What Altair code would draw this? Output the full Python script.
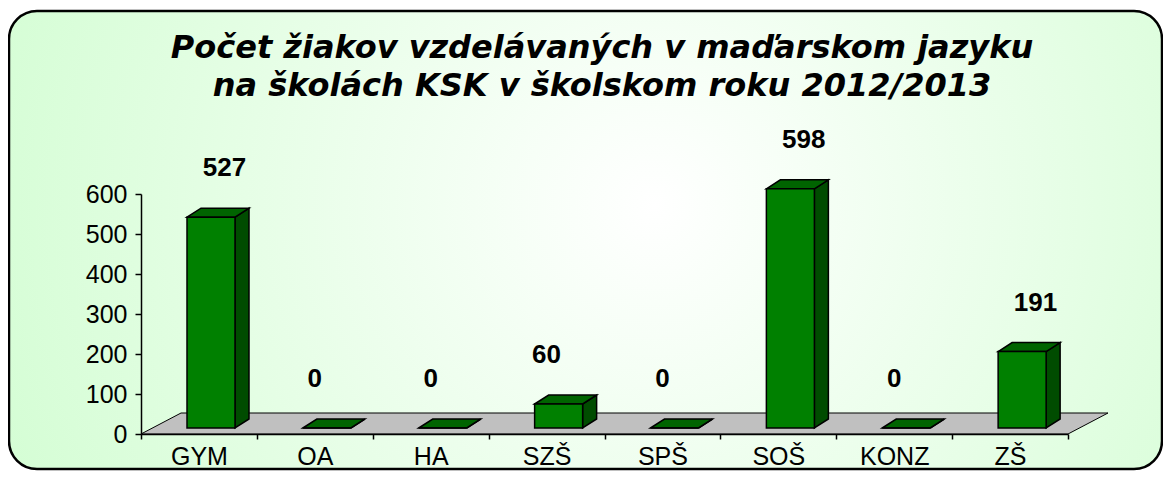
import altair as alt
import pandas as pd

categories = ["GYM", "OA", "HA", "SZŠ", "SPŠ", "SOŠ", "KONZ", "ZŠ"]
values = [527, 0, 0, 60, 0, 598, 0, 191]
y_ticks = [0, 100, 200, 300, 400, 500, 600]
title_lines = ["Počet žiakov vzdelávaných v maďarskom jazyku",
               "na školách KSK v školskom roku 2012/2013"]

# geometry of the pseudo-3D look (in data units)
W, H = 927, 240
PX = 8 / W          # data units per px (x)
PY = 600 / H        # data units per px (y)
BAR_L, BAR_R = 46 * PX, 94 * PX
BASE = 6 * PY
DX, DY = 14 * PX, 9 * PY
FDX, FDY = 40 * PX, 21 * PY

floor = pd.DataFrame({
    "x": [0, FDX, 8, 8 + FDX],
    "y": [0, FDY, FDY, FDY],
    "y2": [0, 0, 0, FDY],
})

front_rows, side_rows, top_rows = [], [], []
for i, (c, v) in enumerate(zip(categories, values)):
    L, R = i + BAR_L, i + BAR_R
    b, t = BASE, BASE + v
    front_rows += [{"id": c, "x": L, "y": t, "y2": b},
                   {"id": c, "x": R, "y": t, "y2": b}]
    side_rows += [{"id": c, "x": R, "y": t, "y2": b},
                  {"id": c, "x": R + DX, "y": t + DY, "y2": b + DY}]
    top_rows += [{"id": c, "x": L, "y": t, "y2": t},
                 {"id": c, "x": L + DX, "y": t + DY, "y2": t},
                 {"id": c, "x": R, "y": t + DY, "y2": t},
                 {"id": c, "x": R + DX, "y": t + DY, "y2": t + DY}]
front = pd.DataFrame(front_rows)
side = pd.DataFrame(side_rows)
top = pd.DataFrame(top_rows)

labels = pd.DataFrame({
    "cat": categories,
    "v": values,
    "lx": [i + 0.5 + (0.22 if v > 100 else 0) for i, v in enumerate(values)],
})

xscale = alt.Scale(domain=[0, 8], nice=False, zero=False)
yscale = alt.Scale(domain=[0, 600], nice=False)

label_expr = "datum.value % 1 == 0 ? '' : " + str(categories) + "[floor(datum.value)]"
x_axis = alt.Axis(
    values=[k * 0.5 for k in range(17)],
    labelExpr=label_expr,
    tickOpacity={"condition": {"test": "datum.value % 1 != 0", "value": 0}, "value": 1},
    title=None, grid=False, tickSize=5, labelPadding=5,
    labelFontSize=25, labelFont="Liberation Sans", labelColor="black",
    domainColor="black", tickColor="black", domainWidth=1.5, tickWidth=1.5,
    labelAngle=0, zindex=1, labelOverlap=False,
)
y_axis = alt.Axis(
    values=y_ticks, title=None, grid=False, tickSize=6, labelPadding=8,
    labelFontSize=25, labelFont="Liberation Sans", labelColor="black",
    domainColor="black", tickColor="black", domainWidth=1.5, tickWidth=1.5,
    zindex=1, labelOverlap=False,
)


def X(field):
    return alt.X(field, scale=xscale, axis=x_axis)


def Y(field):
    return alt.Y(field, scale=yscale, axis=y_axis)


# background frame (pixel offsets relative to plot area)
bg = alt.Chart(pd.DataFrame({"a": [0]})).mark_rect(
    fill={"gradient": "radial", "x1": 0.56, "y1": 0.47, "r1": 0,
          "x2": 0.56, "y2": 0.47, "r2": 0.78,
          "stops": [{"offset": 0, "color": "#ffffff"},
                    {"offset": 1, "color": "#c8fdc8"}]},
    stroke="black", strokeWidth=2.5, cornerRadius=28,
).encode(x=alt.value(-132), x2=alt.value(1021), y=alt.value(-183), y2=alt.value(275))

floor_layer = alt.Chart(floor).mark_area(
    color="#c0c0c0", stroke="black", strokeWidth=1, interpolate="linear"
).encode(x=X("x:Q"), y=Y("y:Q"), y2="y2:Q")


def faces(df, fill):
    return alt.Chart(df).mark_area(
        color=fill, stroke="black", strokeWidth=1.5, interpolate="linear",
        strokeJoin="miter",
    ).encode(x=X("x:Q"), y=Y("y:Q"), y2="y2:Q", detail="id:N")


side_layer = faces(side, "#004c00")
top_layer = faces(top, "#006400")
front_layer = faces(front, "#008000")

text_layer = alt.Chart(labels).mark_text(
    font="Liberation Sans", fontSize=26, fontWeight="bold", color="black",
    baseline="middle", align="center", dy=-55,
).encode(x=X("lx:Q"), y=Y("v:Q"), text="v:Q")

t1 = alt.Chart(pd.DataFrame({"t": [title_lines[0]]})).mark_text(
    font="DejaVu Sans", fontSize=32, fontWeight="bold", fontStyle="italic",
    color="black", align="center", baseline="alphabetic",
).encode(x=alt.value(461), y=alt.value(-136), text="t:N")
t2 = alt.Chart(pd.DataFrame({"t": [title_lines[1]]})).mark_text(
    font="DejaVu Sans", fontSize=32, fontWeight="bold", fontStyle="italic",
    color="black", align="center", baseline="alphabetic",
).encode(x=alt.value(461), y=alt.value(-98), text="t:N")

chart = alt.layer(
    bg, floor_layer, side_layer, top_layer, front_layer, text_layer, t1, t2
).properties(
    width=W, height=H,
    autosize=alt.AutoSizeParams(type="none"),
    padding={"left": 133, "top": 186, "right": 95, "bottom": 37},
    background="white",
).configure_view(stroke=None)

chart.save("out.html", embed_options={"renderer": "svg", "actions": False})
